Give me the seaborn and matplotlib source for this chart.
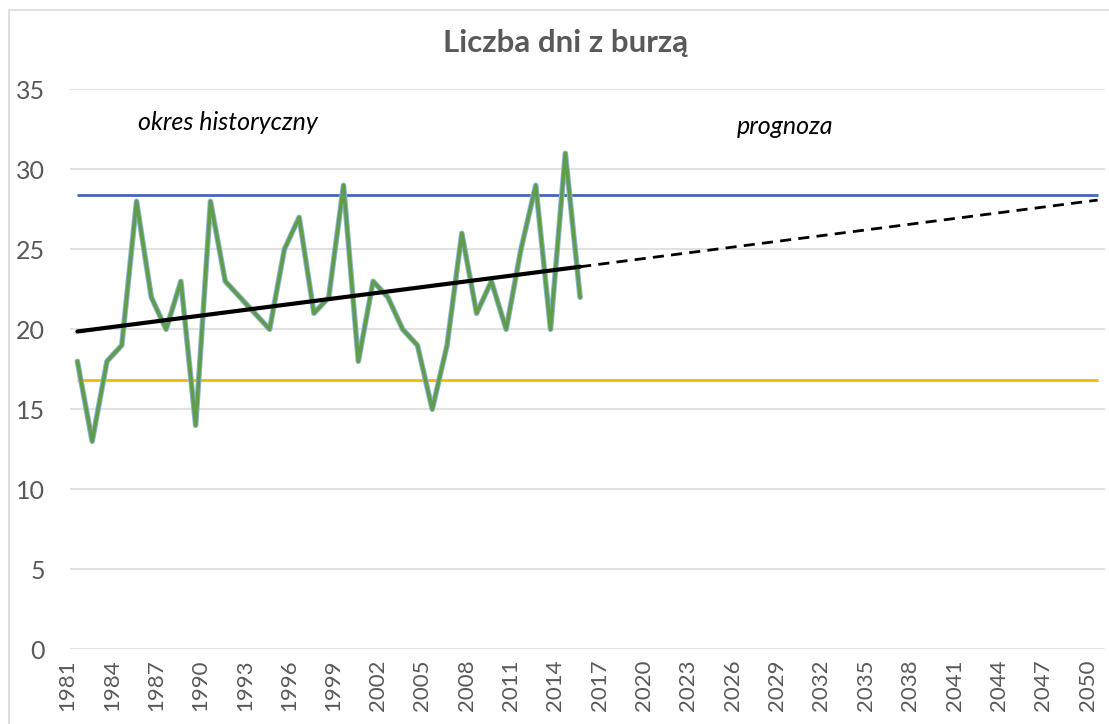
import numpy as np
import pandas as pd
import matplotlib
matplotlib.use('Agg')
import matplotlib.pyplot as plt
import matplotlib.patheffects as pe
from matplotlib.patches import Rectangle
import seaborn as sns

# Historical data
years_hist = list(range(1981, 2016))
storm_days = [18, 13, 18, 19, 28, 22, 20, 23, 14, 28,
              23, 22, 21, 20, 25, 27, 21, 22, 29, 18,
              23, 22, 20, 19, 15, 19, 26, 21, 23, 20,
              25, 29, 20, 31, 22]

# Reference levels
upper_level = 28.4
lower_level = 16.8

# Axis ranges / labels
first_year = 1981
last_year = 2050
tick_years = list(range(1981, 2051, 3))
y_ticks = [0, 5, 10, 15, 20, 25, 30, 35]

title = 'Liczba dni z burzą'
label_hist = 'okres historyczny'
label_fcst = 'prognoza'

sns.set_theme(style='white')
plt.rcParams['font.family'] = ['Lato', 'DejaVu Sans']

df = pd.DataFrame({'rok': years_hist, 'dni': storm_days})

# Linear trend, fitted on history and extended to 2050
coef = np.polyfit(df['rok'], df['dni'], 1)
trend_hist = pd.DataFrame({'rok': [first_year, years_hist[-1]]})
trend_hist['dni'] = np.polyval(coef, trend_hist['rok'])
trend_fcst = pd.DataFrame({'rok': [years_hist[-1], last_year]})
trend_fcst['dni'] = np.polyval(coef, trend_fcst['rok'])

fig = plt.figure(figsize=(11.09, 7.24), dpi=100)
ax = fig.add_axes([70 / 1109, 1 - 649.3 / 724, 1035 / 1109, 560 / 724])

# Chart border
fig.patches.append(Rectangle((9 / 1109, -0.05), 1.2, 1 - 10 / 724 + 0.05,
                             transform=fig.transFigure, fill=False,
                             ec='#d9d9d9', lw=1.2, zorder=0))

for yt in y_ticks:
    ax.axhline(yt, color='#d9d9d9', lw=1.1, zorder=0)

ax.hlines(upper_level, first_year, last_year, color='#4169b4', lw=2, zorder=2)
ax.hlines(lower_level, first_year, last_year, color='#f5b800', lw=2, zorder=2)

sns.lineplot(data=df, x='rok', y='dni', ax=ax, color='#5f9c4b', lw=2.6, zorder=3,
             path_effects=[pe.Stroke(linewidth=4, foreground='#8fb4d6'), pe.Normal()])

sns.lineplot(data=trend_hist, x='rok', y='dni', ax=ax, color='black', lw=3, zorder=4)
sns.lineplot(data=trend_fcst, x='rok', y='dni', ax=ax, color='black', lw=2,
             zorder=4, linestyle=(0, (4, 2.6)))

ax.set_xlim(first_year - 0.5, last_year + 0.5)
ax.set_ylim(0, 35)
ax.set_yticks(y_ticks)
ax.set_xticks(tick_years)
ax.set_xticklabels([str(y) for y in tick_years], rotation=90, ha='right')
ax.tick_params(axis='x', labelsize=16, colors='#595959', length=0, pad=7)
ax.tick_params(axis='y', labelsize=18, colors='#595959', length=0, pad=18)
ax.set_xlabel('')
ax.set_ylabel('')
for s in ax.spines.values():
    s.set_visible(False)

ax.text(1985.1, 32.9, label_hist, fontsize=18, style='italic', color='black',
        va='center', ha='left')
ax.text(2025.6, 32.7, label_fcst, fontsize=18, style='italic', color='black',
        va='center', ha='left')

fig.text(566 / 1109, 1 - 43 / 724, title, fontsize=22.5, fontweight='bold',
         color='#595959', ha='center', va='center')

fig.savefig('out.png', dpi=100)
